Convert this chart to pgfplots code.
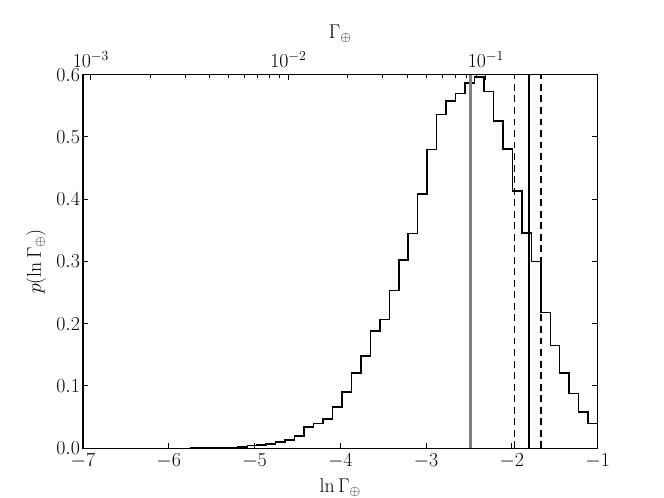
\documentclass[border=0pt]{standalone}
\usepackage{pgfplots}
\usepackage{pgfplotstable}
\pgfplotsset{compat=1.18}

% histogram of ln Gamma: left bin edge, density (bin width ~0.1104)
\pgfplotstableread{
x y
-5.7472 0
-5.6368 0.001
-5.5264 0.001
-5.4160 0.001
-5.3056 0.001
-5.1952 0.002
-5.0848 0.004
-4.9744 0.005
-4.8640 0.007
-4.7536 0.010
-4.6432 0.013
-4.5328 0.020
-4.4224 0.034
-4.3120 0.040
-4.2016 0.047
-4.0912 0.066
-3.9808 0.090
-3.8704 0.121
-3.7600 0.148
-3.6496 0.188
-3.5392 0.207
-3.4288 0.253
-3.3184 0.302
-3.2080 0.345
-3.0976 0.408
-2.9872 0.480
-2.8768 0.536
-2.7664 0.558
-2.6560 0.570
-2.5456 0.587
-2.4352 0.596
-2.3248 0.573
-2.2144 0.526
-2.1040 0.481
-1.9936 0.413
-1.8832 0.346
-1.7728 0.300
-1.6624 0.218
-1.5520 0.165
-1.4416 0.121
-1.3312 0.088
-1.2208 0.058
-1.1104 0.040
-1.0000 0.040
}\histdata

\begin{document}
\begin{tikzpicture}
\useasboundingbox (-72bp,-43.2bp) rectangle (504bp,388.8bp);
\pgfplotsset{
  every axis/.append style={
    width=446.4bp, height=324bp, scale only axis,
    at={(0,0)}, anchor=south west,
    tick align=inside,
    major tick length=4.5bp, minor tick length=2.5bp,
    axis line style={line width=1bp},
    every tick/.style={black, line width=0.8bp},
    tick label style={font=\fontsize{18}{22}\selectfont},
    label style={font=\fontsize{18}{22}\selectfont},
  }
}
\begin{axis}[
  xmin=-7, xmax=-1, ymin=0, ymax=0.6,
  xtick={-7,-6,...,-1},
  ytick={0,0.1,...,0.6},
  xtick pos=bottom,
  ytick pos=both, yticklabel pos=left,
  yticklabel style={/pgf/number format/fixed, /pgf/number format/zerofill,
    /pgf/number format/precision=1, inner xsep=2.5bp},
  xticklabel style={inner ysep=5bp},
  xlabel={$\ln\Gamma_\oplus$},
  ylabel={$p(\ln\Gamma_\oplus)$},
  xlabel style={yshift=0bp},
  ylabel style={yshift=3bp},
]
\addplot[const plot, black, line width=1.3bp] table[x=x, y=y] {\histdata};
\addplot[gray, line width=2.8bp] coordinates {(-2.48,0) (-2.48,0.6)};
\addplot[black, line width=1bp, dash pattern=on 6bp off 4bp] coordinates {(-1.97,0) (-1.97,0.6)};
\addplot[black, line width=1bp, dash pattern=on 6bp off 4bp] coordinates {(-1.66,0) (-1.66,0.6)};
\addplot[black, line width=1bp] coordinates {(-1.80,0) (-1.80,0.6)};
\end{axis}
\begin{axis}[
  xmode=log,
  xmin=0.000911882, xmax=0.367879441,
  ymin=0, ymax=1,
  axis x line*=top,
  hide y axis,
  xtick={0.001,0.01,0.1},
  xticklabel style={inner ysep=6bp},
  xlabel={$\Gamma_\oplus$},
  xlabel style={yshift=-2bp},
]
\end{axis}
\end{tikzpicture}
\end{document}
